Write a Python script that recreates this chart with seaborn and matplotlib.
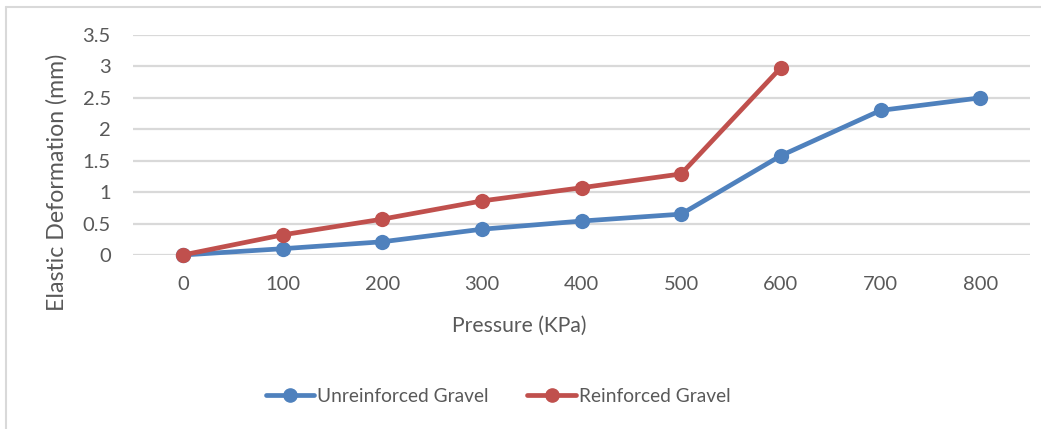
import matplotlib
matplotlib.use("Agg")
import matplotlib.pyplot as plt
import seaborn as sns
import pandas as pd
from matplotlib.lines import Line2D

pressures = [0, 100, 200, 300, 400, 500, 600, 700, 800]
unreinforced = [0, 0.10, 0.21, 0.41, 0.54, 0.65, 1.58, 2.30, 2.50]
reinforced = [0, 0.32, 0.57, 0.86, 1.07, 1.29, 2.98]
series_names = ["Unreinforced Gravel", "Reinforced Gravel"]
y_ticks = [0, 0.5, 1, 1.5, 2, 2.5, 3, 3.5]
y_tick_labels = ["0", "0.5", "1", "1.5", "2", "2.5", "3", "3.5"]

rows = []
for p, v in zip(pressures, unreinforced):
    rows.append({"Pressure": str(p), "Def": v, "Series": series_names[0]})
for p, v in zip(pressures, reinforced):
    rows.append({"Pressure": str(p), "Def": v, "Series": series_names[1]})
df = pd.DataFrame(rows)

sns.set_theme(style="white")
plt.rcParams["font.family"] = ["Lato", "DejaVu Sans"]
txt = "#595959"
blue = "#4F81BD"
red = "#C0504D"
grid = "#D9D9D9"

fig = plt.figure(figsize=(10.41, 4.29), dpi=100)
ax = fig.add_axes([133/1041, 1-255/429, (1030-133)/1041, (255-35)/429])

sns.pointplot(data=df, x="Pressure", y="Def", hue="Series",
              order=[str(p) for p in pressures], hue_order=series_names,
              palette=[blue, red], markers="o", markersize=11,
              linewidth=3.4, errorbar=None, ax=ax)
for ln in ax.lines:
    ln.set_solid_capstyle("round")
    ln.set_solid_joinstyle("round")
    ln.set_clip_on(False)
    ln.set_markeredgewidth(0)
for c in ax.collections:
    c.set_clip_on(False)

ax.set_xlim(-0.5, len(pressures) - 0.5)
ax.set_ylim(0, 3.5)
ax.set_yticks(y_ticks)
ax.set_yticklabels(y_tick_labels)
ax.yaxis.grid(True, color=grid, linewidth=1.6)
ax.set_axisbelow(True)
for s in ax.spines.values():
    s.set_visible(False)
ax.tick_params(axis="both", length=0, labelsize=14.5, colors=txt)
ax.tick_params(axis="x", pad=15)
ax.tick_params(axis="y", pad=16)
ax.set_xlabel("Pressure (KPa)", fontsize=15.2, color=txt)
ax.set_ylabel("Elastic Deformation (mm)", fontsize=16.7, color=txt)
ax.xaxis.set_label_coords((519-133)/897, -(326-255)/220)
ax.yaxis.set_label_coords(-(133-57)/897, (255-182)/220)
ax.xaxis.label.set_va("center")
ax.yaxis.label.set_va("center")

if ax.get_legend() is not None:
    ax.get_legend().remove()
handles = [Line2D([0], [0], color=blue, lw=3.4, marker="o", markersize=9.5, solid_capstyle="round"),
           Line2D([0], [0], color=red, lw=3.4, marker="o", markersize=9.5, solid_capstyle="round")]
fig.legend(handles, series_names, loc="center", bbox_to_anchor=(498/1041, 1-396/429),
           ncol=2, frameon=False, fontsize=13.8, labelcolor=txt, handlelength=2.55,
           handletextpad=0.15, columnspacing=2.0)

# chart frame
fig.add_artist(Line2D([6/1041, 6/1041], [0, 1-7/429], color=grid, lw=1.5))
fig.add_artist(Line2D([6/1041, 1], [1-7/429, 1-7/429], color=grid, lw=1.5))

fig.savefig("out.png", dpi=100)
